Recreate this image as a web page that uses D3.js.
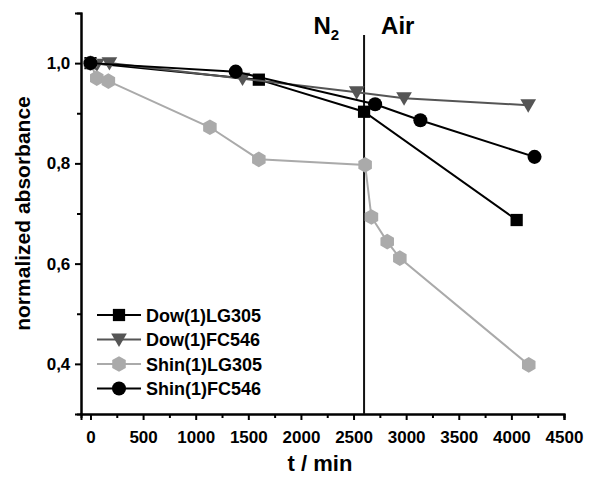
<!DOCTYPE html>
<html>
<head>
<meta charset="utf-8">
<script src="https://cdn.jsdelivr.net/npm/d3@7"></script>
<style>
  body { margin: 0; background: #fff; }
  svg { font-family: "Liberation Sans", Arial, sans-serif; font-weight: bold; }
</style>
</head>
<body>
<div id="chart"></div>
<script>
// data
const dowLG305 = [[0, 1.0], [1600, 0.967], [2600, 0.903], [4050, 0.687]];
const dowFC546 = [[60, 0.997], [180, 1.0], [1445, 0.969], [2530, 0.942], [2980, 0.930], [4160, 0.916]];
const shinLG305 = [[0, 1.0], [60, 0.970], [170, 0.964], [1135, 0.872], [1600, 0.808], [2610, 0.797],
                   [2670, 0.693], [2820, 0.644], [2940, 0.611], [4165, 0.398]];
const shinFC546 = [[0, 1.0], [1380, 0.983], [2705, 0.918], [3135, 0.886], [4220, 0.813]];
const xTicks = [0, 500, 1000, 1500, 2000, 2500, 3000, 3500, 4000, 4500];
const yTicks = [0.4, 0.6, 0.8, 1.0];
const switchTime = 2600;

const series = [
  { name: 'Dow(1)LG305', data: dowLG305, color: '#000', symbol: d3.symbolSquare, size: 150 },
  { name: 'Dow(1)FC546', data: dowFC546, color: '#555', symbol: 'tri', size: 160 },
  { name: 'Shin(1)LG305', data: shinLG305, color: '#aaa', symbol: 'hex', size: 170 },
  { name: 'Shin(1)FC546', data: shinFC546, color: '#000', symbol: d3.symbolCircle, size: 155 }
];

const width = 600, height = 477;
const margin = { left: 81, right: 36, top: 13, bottom: 63 };

const x = d3.scaleLinear().domain([-90, 4500]).range([margin.left, width - margin.right]);
const y = d3.scaleLinear().domain([0.3, 1.1]).range([height - margin.bottom, margin.top]);

const svg = d3.select('#chart').append('svg')
  .attr('width', width)
  .attr('height', height);

// custom shapes
const triDown = {
  draw(ctx, size) {
    const s = Math.sqrt(size) * 0.62;
    ctx.moveTo(-s, -s * 0.75);
    ctx.lineTo(s, -s * 0.75);
    ctx.lineTo(0, s * 0.95);
    ctx.closePath();
  }
};
const hexagon = {
  draw(ctx, size) {
    const r = Math.sqrt(size) * 0.6;
    for (let i = 0; i < 6; i++) {
      const a = Math.PI / 6 + i * Math.PI / 3;
      if (i === 0) ctx.moveTo(r * Math.cos(a), r * Math.sin(a));
      else ctx.lineTo(r * Math.cos(a), r * Math.sin(a));
    }
    ctx.closePath();
  }
};
function symType(s) {
  if (s === 'tri') return triDown;
  if (s === 'hex') return hexagon;
  return s;
}

// axes
const xAxis = svg.append('g')
  .attr('transform', `translate(0, ${y(0.3)})`)
  .call(d3.axisBottom(x).tickValues(xTicks).tickSize(6).tickFormat(d3.format('d')));
const xMinor = svg.append('g')
  .attr('transform', `translate(0, ${y(0.3)})`)
  .call(d3.axisBottom(x).tickValues(d3.range(250, 4500, 500)).tickSize(4).tickFormat(''));
const yAxis = svg.append('g')
  .attr('transform', `translate(${x(-90)}, 0)`)
  .call(d3.axisLeft(y).tickValues(yTicks).tickSize(6).tickFormat(d => d3.format('.1f')(d).replace('.', ',')));
const yMinor = svg.append('g')
  .attr('transform', `translate(${x(-90)}, 0)`)
  .call(d3.axisLeft(y).tickValues([0.5, 0.7, 0.9]).tickSize(4).tickFormat(''));

[xAxis, xMinor, yAxis, yMinor].forEach(g => {
  g.select('.domain').attr('stroke', '#000').attr('stroke-width', 2);
  g.selectAll('.tick line').attr('stroke', '#000').attr('stroke-width', 2);
  g.selectAll('text').attr('font-size', 17).attr('font-weight', 'bold').attr('fill', '#000')
    .attr('font-family', '"Liberation Sans", Arial, sans-serif');
});
xAxis.selectAll('text').attr('dy', '1.15em');
yAxis.selectAll('text').attr('dx', '-0.1em');

// axis titles
svg.append('text')
  .attr('x', 320)
  .attr('y', 471)
  .attr('text-anchor', 'middle')
  .attr('font-size', 22)
  .text('t / min');

svg.append('text')
  .attr('transform', `translate(30, ${y(0.7)}) rotate(-90)`)
  .attr('text-anchor', 'middle')
  .attr('font-size', 21)
  .text('normalized absorbance');

// N2 / Air divider
svg.append('line')
  .attr('x1', x(switchTime)).attr('x2', x(switchTime))
  .attr('y1', 35).attr('y2', y(0.3))
  .attr('stroke', '#111').attr('stroke-width', 2);

const n2 = svg.append('text')
  .attr('x', x(switchTime) - 25)
  .attr('y', 34)
  .attr('text-anchor', 'end')
  .attr('font-size', 24);
n2.append('tspan').text('N');
n2.append('tspan').attr('font-size', 15).attr('dy', 6).text('2');

svg.append('text')
  .attr('x', x(switchTime) + 17)
  .attr('y', 34)
  .attr('font-size', 24)
  .text('Air');

// series
const line = d3.line().x(d => x(d[0])).y(d => y(d[1]));

series.forEach(s => {
  svg.append('path')
    .datum(s.data)
    .attr('fill', 'none')
    .attr('stroke', s.color)
    .attr('stroke-width', 2)
    .attr('d', line);

  svg.selectAll(null).data(s.data).enter().append('path')
    .attr('transform', d => `translate(${x(d[0])}, ${y(d[1])})`)
    .attr('d', d3.symbol().type(symType(s.symbol)).size(s.size))
    .attr('fill', s.color);
});

// legend
const legend = svg.append('g').attr('transform', 'translate(97, 315)');
series.forEach((s, i) => {
  const row = legend.append('g').attr('transform', `translate(0, ${i * 24.5})`);
  row.append('line')
    .attr('x1', 0).attr('x2', 44)
    .attr('stroke', s.color).attr('stroke-width', 2);
  row.append('path')
    .attr('transform', 'translate(22, 0)')
    .attr('d', d3.symbol().type(symType(s.symbol)).size(s.size))
    .attr('fill', s.color);
  row.append('text')
    .attr('x', 49)
    .attr('y', 6.5)
    .attr('font-size', 18)
    .text(s.name);
});
</script>
</body>
</html>
